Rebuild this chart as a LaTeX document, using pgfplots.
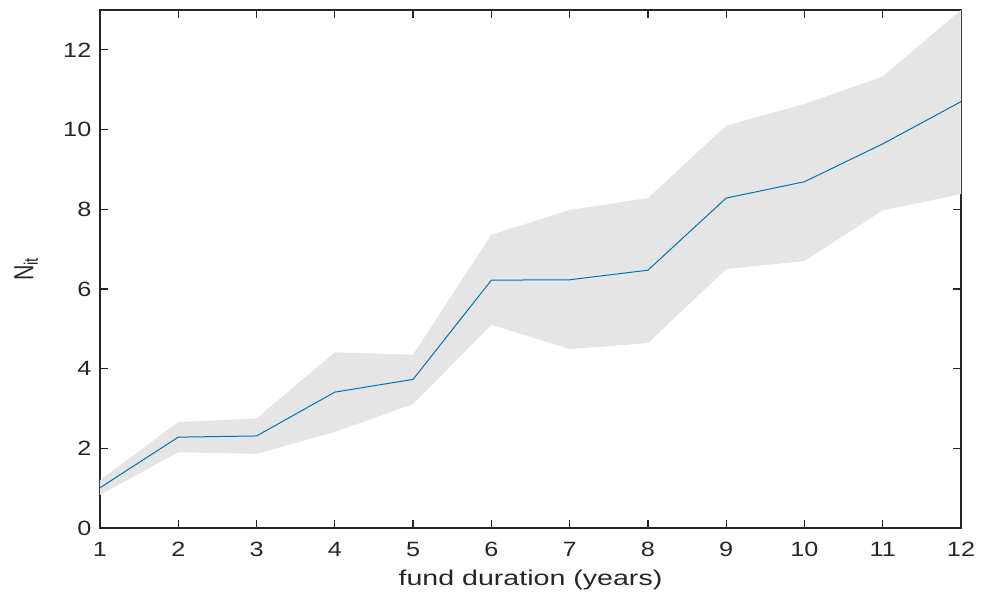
\documentclass[border=0pt]{standalone}
\usepackage{fontspec}
\setmainfont{Liberation Sans}
\usepackage{pgfplots}
\pgfplotsset{compat=1.18}
\definecolor{mblue}{rgb}{0,0.447,0.741}
\definecolor{band}{rgb}{0.898,0.898,0.898}
\definecolor{axc}{rgb}{0.15,0.15,0.15}
\begin{document}
\begin{tikzpicture}
\useasboundingbox (-75pt,-49.5pt) rectangle (660.75pt,396pt);
\begin{axis}[
  at={(0,0)}, anchor=south west,
  scale only axis,
  width=645.75pt, height=388.5pt,
  xmin=1, xmax=12, ymin=0, ymax=13,
  xtick={1,2,...,12}, ytick={0,2,...,12},
  tick align=inside, xtick pos=both, ytick pos=both,
  major tick length=6pt,
  axis line style={axc, line width=0.8pt},
  tick style={axc, line width=0.9pt},
  ticklabel style={font=\fontsize{15.5}{18}\selectfont, text=axc},
  xticklabel={\scalebox{1.22}[1]{\pgfmathprintnumber{\tick}}},
  yticklabel={\scalebox{1.22}[1]{\pgfmathprintnumber{\tick}}},
  xticklabel style={yshift=-7pt},
  yticklabel style={xshift=-3pt},
  /pgf/number format/assume math mode=true,
  xlabel={\scalebox{1.34}[1]{fund duration (years)}},
  ylabel={\scalebox{1}[1.3]{N\textsubscript{it}}},
  label style={font=\fontsize{16}{19}\selectfont, text=axc},
  xlabel style={yshift=-3pt},
  ylabel style={yshift=12pt},
]
\addplot[fill=band, draw=none] coordinates {
 (1,1.20) (2,2.66) (3,2.75) (4,4.41) (5,4.35) (6,7.36) (7,7.98) (8,8.28) (9,10.10) (10,10.64) (11,11.33) (12,13.0)
 (12,8.38) (11,7.97) (10,6.70) (9,6.50) (8,4.64) (7,4.49) (6,5.10) (5,3.11) (4,2.41) (3,1.86) (2,1.90) (1,0.83)
} -- cycle;
\addplot[mblue, line width=0.75pt] coordinates {
 (1,1.01) (2,2.28) (3,2.31) (4,3.41) (5,3.73) (6,6.22) (7,6.23) (8,6.47) (9,8.28) (10,8.69) (11,9.64) (12,10.70)
};
\end{axis}
\end{tikzpicture}
\end{document}
